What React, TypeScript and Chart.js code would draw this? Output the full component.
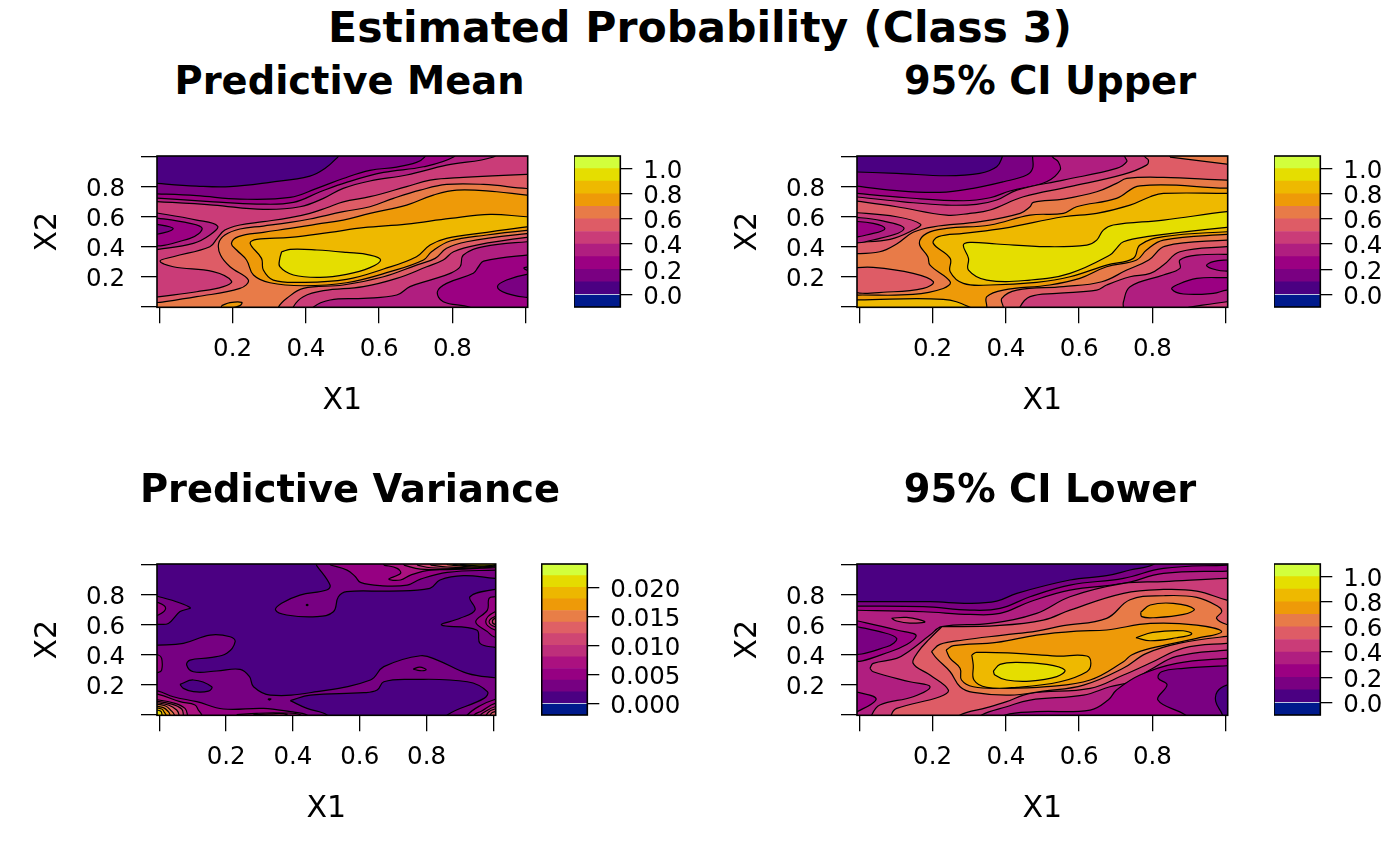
import React, { useEffect, useRef } from "react";
import { Chart, registerables } from "chart.js";
Chart.register(...registerables);

const FONT = "'DejaVu Sans'";
const mainTitle = "Estimated Probability (Class 3)";
const xTicks = [0, 0.2, 0.4, 0.6, 0.8, 1];
const tickLabels = ["", "0.2", "0.4", "0.6", "0.8", ""];
const probBreaks = [-0.1, 0, 0.1, 0.2, 0.3, 0.4, 0.5, 0.6, 0.7, 0.8, 0.9, 1, 1.1];
const probTicks = [0, 0.2, 0.4, 0.6, 0.8, 1];
const probTickLabels = ["0.0", "0.2", "0.4", "0.6", "0.8", "1.0"];
const varBreaks = [-0.002, 0, 0.002, 0.004, 0.006, 0.008, 0.01, 0.012, 0.014, 0.016, 0.018, 0.02, 0.022, 0.024];
const varTicks = [0, 0.005, 0.01, 0.015, 0.02];
const varTickLabels = ["0.000", "0.005", "0.010", "0.015", "0.020"];
const probColors = ["#001A8C", "#4B0082", "#7A0082", "#9B0082", "#B01E80", "#CA3C78", "#DE5C66", "#E87B48", "#EE9A08", "#EEB900", "#E5DE00", "#D2FF3C"];
const varColors = ["#001A8C", "#4B0082", "#770082", "#960082", "#AB1180", "#BE2F7B", "#CF4673", "#DF6065", "#E87E47", "#EE9A08", "#EDB700", "#E5DB00", "#D2FF3C"];

// Contour regions: [band index, closed outline as X1,X2 pairs in thousandths]
const all: number[] = [-30, -50, 1040, -50, 1040, 1070, -30, 1070];
const meanContours: [number, number[]][] = [
  [1, all],
  [2, [-30,828,102,806,193,802,302,831,411,873,452,924,487,1000,511,1070,1040,1070,1040,-50,-30,-50]],
  [3, [-30,757,102,742,220,719,357,730,430,791,502,857,575,911,648,933,702,964,724,1000,739,1070,1040,1070,1040,-50,-30,-50]],
  [4, [-30,730,147,701,266,686,366,697,439,768,511,831,612,897,721,935,803,1000,821,1070,1040,1070,1040,-50,-30,-50]],
  [5, [-30,706,147,679,284,650,384,668,448,724,502,791,575,840,675,880,784,946,912,1000,939,1070,1040,1070,1040,434,1003,434,885,401,830,345,821,267,794,223,739,178,684,134,648,78,557,56,466,45,420,-4,420,-50,-30,-50]],
  [4, [-30,636,102,579,159,539,138,479,93,423,-3,383,-30,378]],
  [3, [-30,601,84,557,117,523,84,457,-30,419]],
  [2, [-30,561,38,523,-30,483]],
  [6, [1040,884,1003,884,830,864,739,846,675,802,575,735,502,701,457,661,411,624,357,595,284,568,220,546,179,512,158,457,138,401,38,334,2,305,38,267,147,234,197,171,175,134,102,100,2,67,-30,56,-30,-50,366,-50,366,0,393,67,448,107,557,134,648,189,730,267,775,312,803,367,866,412,1003,463,1040,463]],
  [7, [1040,790,1003,790,885,817,784,817,712,779,639,724,575,668,502,635,411,586,357,563,284,539,220,519,179,479,162,423,167,345,193,267,243,178,220,122,102,67,2,29,-30,20,-30,-50,325,-50,325,-4,348,56,393,122,502,145,612,200,702,278,753,323,784,390,839,434,1003,488,1040,490]],
  [8, [1040,746,1003,746,921,768,812,779,748,746,675,679,575,624,502,579,430,552,357,523,284,497,216,468,197,423,211,379,238,312,257,212,302,160,393,140,511,160,630,234,721,312,743,367,794,439,894,479,1003,510,1040,515]],
  [9, [1040,601,1003,601,903,617,794,590,675,552,557,528,466,497,357,463,266,450,248,423,279,323,284,245,311,178,393,163,511,183,612,252,702,334,739,412,784,457,894,497,1003,534,1040,540]],
  [10, [334,367,357,383,430,379,511,363,575,345,604,312,575,261,511,216,439,196,366,212,329,267,329,323]],
  [8, [170,7,193,27,225,29,220,7,193,-11,170,-11]],
  [3, [1040,345,1003,345,885,305,871,267,857,223,784,156,759,100,775,33,848,-4,866,-50,1040,-50]],
  [2, [1040,216,1003,216,948,178,923,134,948,89,1003,62,1040,60]],
  [2, [1040,265,1003,265,995,258,1003,245,1040,245]],
];
const upperContours: [number, number[]][] = [
  [1, all],
  [2, [-30,902,102,891,238,875,329,891,375,935,390,1000,398,1070,1040,1070,1040,-50,-30,-50]],
  [3, [-30,813,102,775,220,764,311,791,394,835,457,880,473,924,473,1000,473,1070,1040,1070,1040,-50,-30,-50]],
  [4, [-30,762,129,728,284,708,357,728,411,773,511,835,548,913,543,969,528,1000,511,1070,1040,1070,1040,-50,-30,-50]],
  [5, [-30,739,120,701,238,679,320,684,375,713,430,779,557,846,702,924,730,969,725,1000,712,1070,1040,1070,1040,-50,-30,-50]],
  [6, [-30,713,102,668,238,612,302,624,357,646,448,735,575,802,721,884,784,946,789,980,780,1000,766,1070,1040,1070,1040,402,1003,401,875,367,830,278,794,223,739,200,675,145,648,111,539,89,466,67,439,0,439,-50,-30,-50]],
  [7, [848,1000,1003,953,1040,945,1040,1070,848,1070]],
  [5, [-30,633,102,601,167,552,147,512,84,450,-3,430,-30,428]],
  [4, [-30,603,60,575,122,523,56,457,-30,441]],
  [3, [-30,574,38,557,70,523,38,490,-30,472]],
  [7, [-30,352,56,367,102,419,147,497,202,534,329,568,439,624,466,668,475,697,557,719,648,768,702,824,730,857,830,864,1003,846,1040,846,1040,445,1003,445,835,405,790,312,730,245,662,167,557,134,430,111,389,56,393,-4,393,-50,-30,-50]],
  [6, [-30,258,38,263,147,223,202,167,175,122,93,100,-30,113]],
  [8, [1040,793,1003,792,766,808,702,724,593,668,557,624,466,612,357,546,238,523,184,490,164,423,187,334,193,278,248,167,229,122,147,82,-3,78,-30,78,-30,-50,348,-50,348,0,348,67,393,111,520,145,602,189,675,267,757,312,784,379,830,445,1003,483,1040,483]],
  [9, [1040,757,1003,757,830,757,794,735,739,679,648,624,557,601,393,523,284,490,216,468,202,423,248,323,248,234,284,156,357,145,484,163,575,200,675,278,748,323,766,412,830,468,1003,501,1040,501]],
  [9, [-30,45,-3,45,229,49,302,-4,320,-50,-30,-50]],
  [10, [1040,637,1003,635,830,579,693,546,666,512,648,445,621,412,511,401,375,419,302,430,284,412,298,323,298,245,348,178,466,178,575,223,684,345,702,390,721,434,784,468,1003,530,1040,530]],
  [4, [1040,350,921,345,875,312,875,256,830,212,739,134,721,33,721,-4,725,-50,1040,-50]],
  [3, [1040,312,1003,312,966,301,948,274,976,245,1003,238,1040,238]],
  [3, [1040,194,1003,194,921,189,866,145,853,118,885,85,966,89,1003,111,1040,111]],
  [5, [898,-4,1003,33,1040,40,1040,-50,880,-50]],
];
const varianceContours: [number, number[]][] = [
  [1, all],
  [2, [470,1000,511,866,501,833,421,799,366,744,348,699,381,666,471,655,521,688,536,788,561,822,690,826,810,844,840,900,910,929,1005,911,1040,911,1040,1070,470,1070]],
  [2, [1040,837,1005,837,930,788,945,699,900,644,845,599,950,566,960,477,1005,450,1040,445]],
  [2, [-30,465,-3,465,72,477,152,532,212,521,227,488,202,410,152,381,92,365,82,332,102,287,172,292,242,303,270,254,282,187,332,131,472,154,632,232,672,321,782,394,832,365,922,276,1005,247,1040,245,1040,-50,-30,-50]],
  [1, [392,94,452,131,612,147,652,165,672,220,752,236,922,220,982,154,972,109,862,-2,872,-50,502,-50,502,-2,442,42]],
  [1, [62,203,102,232,157,187,147,158,102,154,72,176]],
  [2, [-30,790,-3,790,92,716,62,689,27,610,-3,604,-30,604]],
  [3, [-30,751,-3,749,19,711,-3,666,-30,660]],
  [3, [-30,399,-3,399,7,376,7,298,-3,283,-30,283]],
  [3, [760,305,780,318,799,300,780,294]],
  [1, [325,105,334,105,329,98]],
  [3, [439,733,442,738,445,733,442,729]],
  [3, [512,1000,562,966,587,922,602,884,662,862,742,866,782,906,862,951,1005,966,1040,966,1040,1070,512,1070]],
  [4, [672,1000,712,978,722,944,687,906,722,900,752,933,812,966,1005,982,1040,982,1040,1070,672,1070]],
  [5, [732,1000,782,973,912,973,1005,987,1040,990,1040,1070,732,1070]],
  [6, [772,1000,812,982,912,978,1005,993,1040,995,1040,1070,772,1070]],
  [7, [812,1000,862,987,952,982,1005,998,1040,1002,1040,1070,812,1070]],
  [9, [862,1002,912,991,962,989,1005,1002,1040,1006,1040,1070,862,1070]],
  [10, [880,1004,930,994,980,993,1005,1003,1040,1008,1040,1070,880,1070]],
  [11, [900,1005,940,997,990,996,1010,1004,1040,1010,1040,1070,900,1070]],
  [3, [-30,160,-3,158,42,120,112,87,192,38,312,42,392,20,442,-2,452,-50,-30,-50]],
  [4, [232,0,292,9,362,11,422,0,422,-50,232,-50]],
  [5, [282,0,332,6,382,0,382,-50,282,-50]],
  [4, [-30,136,-3,136,62,87,107,65,117,31,127,-2,130,-50,-30,-50]],
  [5, [-30,109,47,76,77,42,84,-2,84,-50,-30,-50]],
  [6, [-30,98,37,71,67,38,72,-2,72,-50,-30,-50]],
  [7, [-30,87,27,65,52,31,59,-2,59,-50,-30,-50]],
  [8, [-30,76,17,60,37,24,45,-2,45,-50,-30,-50]],
  [9, [-30,65,12,47,27,20,32,-2,32,-50,-30,-50]],
  [10, [-30,53,7,38,15,16,20,-2,20,-50,-30,-50]],
  [11, [-30,38,4,24,8,-2,8,-50,-30,-50]],
  [3, [1040,790,1005,788,987,777,982,699,947,621,982,555,1002,521,1040,521]],
  [4, [1040,688,1005,688,977,621,1005,566,1040,566]],
  [5, [1040,655,1005,655,987,621,1005,588,1040,588]],
  [6, [1040,644,1005,644,997,621,1005,603,1040,603]],
  [3, [1040,115,1002,100,960,60,922,-2,915,-50,1040,-50]],
  [4, [1040,76,1005,76,965,25,942,-2,940,-50,1040,-50]],
  [5, [1040,53,1005,53,972,16,962,-2,960,-50,1040,-50]],
  [6, [1040,38,1005,38,982,9,975,-50,1040,-50]],
  [7, [1040,20,1005,20,992,4,990,-50,1040,-50]],
];
const lowerContours: [number, number[]][] = [
  [1, all],
  [2, [-30,755,193,755,302,744,375,759,430,811,575,900,675,929,739,967,803,1004,830,1070,1040,1070,1040,-50,-30,-50]],
  [3, [-30,726,175,722,302,699,384,710,466,788,575,866,721,911,830,978,1003,1000,1040,1003,1040,-50,-30,-50]],
  [4, [-30,699,175,688,302,670,384,677,466,755,575,833,721,877,830,944,1003,960,1040,962,1040,-50,-30,-50]],
  [3, [-30,641,102,566,155,525,84,421,-30,372]],
  [2, [-30,599,56,555,102,510,75,454,-30,414]],
  [5, [29,310,38,343,102,376,134,421,193,532,225,588,357,610,484,677,575,788,721,877,830,889,1003,911,1040,911,1040,432,1003,432,866,390,794,300,739,220,684,187,612,131,466,98,402,53,334,-2,320,-50,34,-50,34,-2,56,65,147,120,193,187,138,220,38,287]],
  [5, [88,644,129,650,179,621,138,612,102,626]],
  [3, [-30,152,-3,149,46,105,-3,24,-30,10]],
  [6, [225,588,375,595,502,632,575,699,721,811,830,837,921,826,1003,766,1040,750,1040,477,1003,477,885,445,794,345,721,265,630,176,466,143,402,87,348,47,275,-2,266,-50,88,-50,88,2,102,42,220,120,243,165,193,265,147,343,161,421,193,510]],
  [7, [197,421,220,470,284,499,393,532,484,559,557,595,675,644,739,768,830,795,921,784,980,722,989,688,975,644,1003,603,1040,595,1040,523,1003,523,875,478,784,410,721,312,612,198,502,158,411,131,311,149,275,187,248,287,211,376]],
  [8, [237,432,257,461,375,483,484,532,593,559,675,566,794,610,921,599,989,555,921,510,794,443,743,399,721,354,630,232,511,187,393,176,311,187,279,232,275,310,248,376]],
  [8, [768,684,794,733,857,744,914,706,885,670,803,648,771,655]],
  [9, [755,514,801,550,884,561,907,539,866,514,794,494]],
  [9, [307,399,320,416,429,410,539,392,621,392,632,343,621,287,548,220,430,183,348,183,313,232,311,332]],
  [10, [366,292,384,336,430,350,511,336,561,298,539,254,466,225,402,232,370,265]],
  [3, [1040,376,1003,376,866,343,766,265,702,165,680,100,630,31,484,20,398,-2,390,-50,1040,-50]],
  [2, [1040,327,1003,327,885,310,825,287,816,243,840,200,815,98,890,-2,900,-50,1040,-50]],
  [1, [1040,198,1003,198,977,154,973,87,991,0,995,-50,1040,-50]],
];

const plotPanels = [
  { title: "Predictive Mean", titleX: 349.5, titleY: 81, left: 157, top: 156, right: 527.7, bottom: 307.3, x0: 0, contours: meanContours, colors: probColors, xMin: -0.0063, xMax: 1.0055 },
  { title: "95% CI Upper", titleX: 1050, titleY: 81, left: 857, top: 156, right: 1227.7, bottom: 307.3, x0: 700, contours: upperContours, colors: probColors, xMin: -0.0063, xMax: 1.0055 },
  { title: "Predictive Variance", titleX: 350, titleY: 489, left: 157, top: 564, right: 495.7, bottom: 715.3, x0: 0, contours: varianceContours, colors: varColors, xMin: -0.0069, xMax: 1.0069 },
  { title: "95% CI Lower", titleX: 1050, titleY: 489, left: 857, top: 564, right: 1227.7, bottom: 715.3, x0: 700, contours: lowerContours, colors: probColors, xMin: -0.0063, xMax: 1.0055 },
];
const barPanels = [
  { left: 574, right: 620.3, top: 156, bottom: 307.3, breaks: probBreaks, colors: probColors, ticks: probTicks, labels: probTickLabels },
  { left: 1274, right: 1320.3, top: 156, bottom: 307.3, breaks: probBreaks, colors: probColors, ticks: probTicks, labels: probTickLabels },
  { left: 541.7, right: 587.3, top: 564, bottom: 715.3, breaks: varBreaks, colors: varColors, ticks: varTicks, labels: varTickLabels },
  { left: 1274, right: 1320.3, top: 564, bottom: 715.3, breaks: probBreaks, colors: probColors, ticks: probTicks, labels: probTickLabels },
];

const TICK_SIZE = 24.5;
const boxPlugin = {
  id: "box",
  afterDraw(chart: any) {
    const { ctx, chartArea: a } = chart;
    ctx.save();
    ctx.strokeStyle = "#000";
    ctx.lineWidth = 1.6;
    ctx.strokeRect(a.left, a.top, a.right - a.left, a.bottom - a.top);
    ctx.restore();
  },
};
const fixSize = (prop: "width" | "height", size: number, labelShift = 0) => (s: any) => {
  s[prop] = size;
  s.paddingTop = s.paddingBottom = s.paddingLeft = s.paddingRight = 0;
  if (labelShift && !s.__shifted) {
    s.__shifted = true;
    const orig = s._computeLabelItems;
    s._computeLabelItems = function (a: any) {
      const items = orig.call(this, a);
      items.forEach((it: any) => { it.options.translation[1] += labelShift; });
      return items;
    };
  }
};
const setTicks = (vals: number[]) => (s: any) => {
  s.ticks = vals.map((value) => ({ value }));
};

function makePlot(canvas: HTMLCanvasElement, p: any) {
  const canvasTop = p.top - 30;
  const w = p.right - p.x0 + 3;
  canvas.width = Math.ceil(w);
  canvas.height = 350;
  const datasets = p.contours
    .map(([band, path]: [number, number[]], i: number) => {
      const pts: { x: number; y: number }[] = [];
      for (let k = 0; k < path.length; k += 2) pts.push({ x: path[k] / 1000, y: path[k + 1] / 1000 });
      pts.push(pts[0]);
      return {
        data: pts,
        showLine: true,
        fill: "shape",
        tension: 0.4,
        capBezierPoints: false,
        backgroundColor: p.colors[band],
        borderColor: "#000",
        borderWidth: i === 0 ? 0 : 1.2,
        pointRadius: 0,
        pointHoverRadius: 0,
      };
    })
    .reverse();
  return new Chart(canvas, {
    type: "scatter",
    data: { datasets },
    plugins: [boxPlugin],
    options: {
      animation: false,
      responsive: false,
      devicePixelRatio: 1,
      layout: { padding: { top: 30, right: Math.ceil(w) - (p.right - p.x0), bottom: 0, left: 0 } },
      plugins: { legend: { display: false }, tooltip: { enabled: false } },
      scales: {
        x: {
          type: "linear",
          min: p.xMin,
          max: p.xMax,
          afterBuildTicks: setTicks(xTicks),
          afterFit: fixSize("height", 350 - (p.bottom - canvasTop)),
          grid: { drawOnChartArea: false, drawTicks: true, tickLength: 16, color: "#000", lineWidth: 1.3 },
          border: { display: false },
          ticks: { autoSkip: false, maxRotation: 0, padding: 12, color: "#000", font: { family: FONT, size: TICK_SIZE }, callback: (_v: any, i: number) => tickLabels[i] },
          title: { display: true, text: "X1", color: "#000", font: { family: FONT, size: 30 }, padding: { top: 16, bottom: 57 } },
        },
        y: {
          type: "linear",
          min: -0.004,
          max: 1.007,
          afterBuildTicks: setTicks(xTicks),
          afterFit: fixSize("width", p.left - p.x0, 3),
          grid: { drawOnChartArea: false, drawTicks: true, tickLength: 16, color: "#000", lineWidth: 1.3 },
          border: { display: false },
          ticks: { autoSkip: false, padding: 16, color: "#000", font: { family: FONT, size: TICK_SIZE }, callback: (_v: any, i: number) => tickLabels[i] },
          title: { display: true, text: "X2", color: "#000", font: { family: FONT, size: 30 }, padding: { top: 30, bottom: 0 } },
        },
      },
    } as any,
  });
}

function makeBar(canvas: HTMLCanvasElement, p: any) {
  const width = 1400 - Math.floor(p.left) < 150 ? 1400 - Math.floor(p.left) : 150;
  canvas.width = width;
  canvas.height = p.bottom - p.top + 40;
  const barW = p.right - Math.floor(p.left);
  const step = p.breaks;
  const datasets = p.colors.map((c: string, i: number) => ({
    data: [[step[i], step[i + 1]]],
    backgroundColor: c,
    borderWidth: 0,
    grouped: false,
    barPercentage: 1,
    categoryPercentage: 1,
  }));
  return new Chart(canvas, {
    type: "bar",
    data: { labels: [""], datasets },
    plugins: [boxPlugin],
    options: {
      animation: false,
      responsive: false,
      devicePixelRatio: 1,
      layout: { padding: { top: 20, bottom: 20, left: p.left - Math.floor(p.left), right: 0 } },
      plugins: { legend: { display: false }, tooltip: { enabled: false } },
      scales: {
        x: { display: false },
        y: {
          position: "right",
          min: step[0],
          max: step[step.length - 1],
          afterBuildTicks: setTicks(p.ticks),
          afterFit: fixSize("width", width - barW, 3),
          grid: { drawOnChartArea: false, drawTicks: true, tickLength: 12, color: "#000", lineWidth: 1.3 },
          border: { display: false },
          ticks: { autoSkip: false, padding: 11, color: "#000", font: { family: FONT, size: TICK_SIZE }, callback: (_v: any, i: number) => p.labels[i] },
        },
      },
    } as any,
  });
}

export default function App() {
  const plotRefs = useRef<(HTMLCanvasElement | null)[]>([]);
  const barRefs = useRef<(HTMLCanvasElement | null)[]>([]);
  useEffect(() => {
    const charts: Chart[] = [];
    plotPanels.forEach((p, i) => charts.push(makePlot(plotRefs.current[i]!, p)));
    barPanels.forEach((p, i) => charts.push(makeBar(barRefs.current[i]!, p)));
    return () => charts.forEach((c) => c.destroy());
  }, []);
  const titleStyle = (x: number, y: number, size: number): React.CSSProperties => ({
    position: "absolute", left: x, top: y, transform: "translate(-50%,-50%)", font: `bold ${size}px ${FONT}`, lineHeight: 1, whiteSpace: "nowrap", color: "#000",
  });
  return (
    <div style={{ position: "absolute", left: 0, top: 0, width: 1400, height: 866, overflow: "hidden", background: "#fff" }}>
      <div style={titleStyle(700, 27, 42.6)}>{mainTitle}</div>
      {plotPanels.map((p, i) => (
        <React.Fragment key={p.title}>
          <canvas ref={(el) => { plotRefs.current[i] = el; }} style={{ position: "absolute", left: p.x0, top: p.top - 30 }} />
          <div style={titleStyle(p.titleX, p.titleY, 38.4)}>{p.title}</div>
        </React.Fragment>
      ))}
      {barPanels.map((p, i) => (
        <canvas key={i} ref={(el) => { barRefs.current[i] = el; }} style={{ position: "absolute", left: Math.floor(p.left), top: p.top - 20 }} />
      ))}
    </div>
  );
}
